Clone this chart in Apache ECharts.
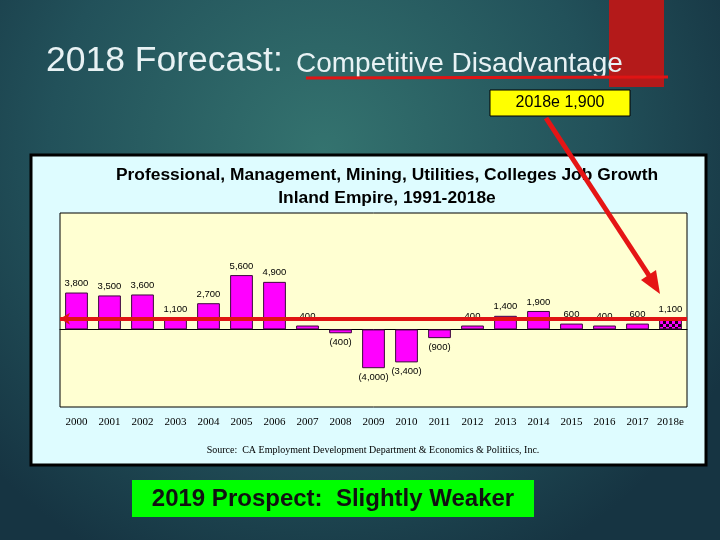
<!DOCTYPE html>
<html>
<head>
<meta charset="utf-8">
<style>
  html, body { margin: 0; padding: 0; background: #1c4250; }
  #main { width: 720px; height: 540px; }
</style>
<script src="https://cdn.jsdelivr.net/npm/echarts@6/dist/echarts.min.js"></script>
</head>
<body>
<div id="main"></div>
<script>
var years = ['2000', '2001', '2002', '2003', '2004', '2005', '2006', '2007', '2008', '2009',
    '2010', '2011', '2012', '2013', '2014', '2015', '2016', '2017', '2018e'];
var jobGrowth = [3800, 3500, 3600, 1100, 2700, 5600, 4900, 400, -400, -4000,
    -3400, -900, 400, 1400, 1900, 600, 400, 600, 1100];
var forecastYear = '2018e';
var trendLevel = 1100;

(function() {
    var chart = echarts.init(document.getElementById('main'));

    // checkered fill for the forecast bar
    var tile = document.createElement('canvas');
    tile.width = 6;
    tile.height = 6;
    var ctx = tile.getContext('2d');
    ctx.fillStyle = '#ff00ff';
    ctx.fillRect(0, 0, 6, 6);
    ctx.fillStyle = '#1a001a';
    ctx.fillRect(0, 0, 3, 3);
    ctx.fillRect(3, 3, 3, 3);

    function fmt(v) {
        var s = Math.abs(v).toLocaleString('en-US');
        return v < 0 ? '(' + s + ')' : s;
    }

    var barData = jobGrowth.map(function(v, i) {
        var item = {
            value: v,
            label: { position: v < 0 ? 'bottom' : 'top' }
        };
        if (years[i] === forecastYear) {
            item.itemStyle = { color: { image: tile, repeat: 'repeat' } };
        }
        return item;
    });

    var option = {
        animation: false,
        graphic: [
            {
                type: 'rect', z: -20, silent: true,
                shape: { x: 0, y: 0, width: 720, height: 540 },
                style: {
                    fill: new echarts.graphic.RadialGradient(0.45, 0.28, 0.85, [
                        { offset: 0, color: '#34736f' },
                        { offset: 0.6, color: '#22515a' },
                        { offset: 1, color: '#163442' }
                    ])
                }
            },
            {
                type: 'rect', z: -19,
                shape: { x: 609, y: 0, width: 55, height: 87 },
                style: { fill: '#b41a1a' }
            },
            {
                type: 'text', z: -18, x: 46, y: 61.5,
                style: {
                    text: '2018 Forecast:', fill: '#e8f2f4', verticalAlign: 'middle',
                    fontSize: 35.5, fontFamily: 'Liberation Sans'
                }
            },
            {
                type: 'text', z: -18, x: 296, y: 64.5,
                style: {
                    text: 'Competitive Disadvantage', fill: '#e8f2f4', verticalAlign: 'middle',
                    fontSize: 28, fontFamily: 'Liberation Sans'
                }
            },
            {
                type: 'line', z: -17,
                shape: { x1: 306, y1: 78, x2: 668, y2: 77 },
                style: { stroke: '#e01414', lineWidth: 3 }
            },
            {
                type: 'rect', z: -16,
                shape: { x: 490, y: 90, width: 140, height: 26 },
                style: { fill: '#ffff00', stroke: '#000', lineWidth: 1 }
            },
            {
                type: 'text', z: -15, x: 560, y: 103,
                style: {
                    text: '2018e 1,900', fill: '#000', align: 'center', verticalAlign: 'middle',
                    fontSize: 16, fontFamily: 'Liberation Sans'
                }
            },
            // chart frame
            {
                type: 'rect', z: -10,
                shape: { x: 31, y: 155, width: 675, height: 310 },
                style: { fill: '#defcff', stroke: '#000', lineWidth: 3 }
            },
            {
                type: 'text', z: -9, x: 387, y: 187,
                style: {
                    text: 'Professional, Management, Mining, Utilities, Colleges Job Growth\nInland Empire, 1991-2018e',
                    fill: '#000', align: 'center', verticalAlign: 'middle', lineHeight: 23,
                    fontSize: 17.4, fontWeight: 'bold', fontFamily: 'Liberation Sans'
                }
            },
            {
                type: 'text', z: -9, x: 373, y: 450,
                style: {
                    text: 'Source:  CA Employment Development Department & Economics & Politiics, Inc.',
                    fill: '#000', align: 'center', verticalAlign: 'middle',
                    fontSize: 10, fontFamily: 'Liberation Serif'
                }
            },
            // forecast arrow
            {
                type: 'line', z: 50,
                shape: { x1: 546, y1: 118, x2: 650, y2: 277 },
                style: { stroke: '#e51515', lineWidth: 5 }
            },
            {
                type: 'polygon', z: 50,
                shape: { points: [[660, 294], [641, 280], [656, 270]] },
                style: { fill: '#e51515' }
            },
            {
                type: 'rect', z: 40,
                shape: { x: 132, y: 480, width: 402, height: 37 },
                style: { fill: '#00ff00' }
            },
            {
                type: 'text', z: 41, x: 333, y: 499,
                style: {
                    text: '2019 Prospect:  Slightly Weaker', fill: '#111', align: 'center', verticalAlign: 'middle',
                    fontSize: 24, fontWeight: 'bold', fontFamily: 'Liberation Sans'
                }
            }
        ],
        grid: {
            left: 60, right: 33, top: 213, bottom: 133,
            show: true, backgroundColor: '#ffffd2', borderColor: '#000', borderWidth: 1
        },
        xAxis: [
            {
                type: 'category', data: years,
                axisLine: { onZero: true, lineStyle: { color: '#000', width: 1 } },
                axisTick: { show: false },
                axisLabel: { show: false }
            },
            {
                type: 'category', data: years, position: 'bottom',
                axisLine: { show: false, onZero: false },
                axisTick: { show: false },
                axisLabel: { color: '#000', fontSize: 11, fontFamily: 'Liberation Serif', margin: 10, interval: 0 }
            }
        ],
        yAxis: {
            type: 'value', min: -8000, max: 12000, show: false,
            splitLine: { show: false }
        },
        series: [
            {
                name: 'Job Growth',
                type: 'bar',
                barWidth: '69%',
                data: barData,
                itemStyle: { color: '#ff00ff', borderColor: '#3a0a3a', borderWidth: 1 },
                label: {
                    show: true, distance: 4, color: '#000',
                    fontSize: 9.5, fontFamily: 'Liberation Sans',
                    formatter: function(p) { return fmt(p.value); }
                },
                markLine: {
                    silent: true,
                    symbol: ['arrow', 'none'],
                    symbolSize: [9, 10],
                    label: { show: false },
                    lineStyle: { color: '#e01414', width: 4, type: 'solid' },
                    data: [{ yAxis: trendLevel }]
                }
            }
        ]
    };
    chart.setOption(option);
})();
</script>
</body>
</html>
